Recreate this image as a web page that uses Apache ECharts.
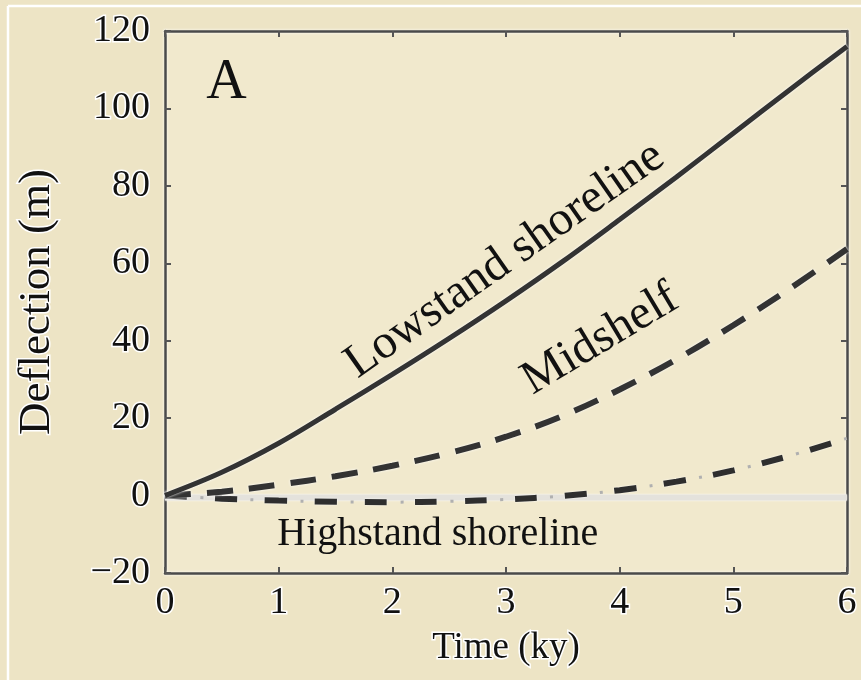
<!DOCTYPE html>
<html><head><meta charset="utf-8">
<script src="https://cdn.jsdelivr.net/npm/echarts@6/dist/echarts.min.js"></script>
<style>html,body{margin:0;padding:0;background:#ede4c5}#c{width:861px;height:680px}</style>
</head><body><div id="c"></div>
<script>
// ---- data ----
const timeKy     = [0, 0.5, 1, 1.5, 2, 2.5, 3, 3.5, 4, 4.5, 5, 5.5, 6];
const lowstand   = [0, 6, 13.5, 22.3, 31.3, 40.6, 50.3, 60.5, 71.3, 82.3, 93.6, 104.9, 116];
const midshelf   = [0, 1, 2.8, 5, 7.7, 11, 15.2, 20.6, 27.4, 35.2, 44, 53.5, 63.7];
const outerShelf = [0, -0.8, -1.3, -1.6, -1.7, -1.5, -1, -0.1, 1.4, 3.6, 6.5, 10.3, 14.8];
const highstand  = [-0.5, -0.5, -0.5, -0.5, -0.5, -0.5, -0.5, -0.5, -0.5, -0.5, -0.5, -0.5, -0.5];
const xTickLabels = ['0', '1', '2', '3', '4', '5', '6'];
const yTickLabels = ['-20', '0', '20', '40', '60', '80', '100', '120'];
const labelTexts = ['Lowstand shoreline', 'Midshelf', 'Highstand shoreline', 'A'];
const labelAnchors = [[2.99, 60.8], [3.83, 40.3], [2.4, -10.1], [0.54, 106.5]];

const pair = arr => timeKy.map((t, i) => [t, arr[i]]);
const serif = 'Liberation Serif, Times New Roman, serif';
const halo = { textBorderColor: '#fff', textBorderWidth: 3 };

function axisCommon(extra) {
  return Object.assign({
    type: 'value',
    splitLine: { show: false },
    axisLine: { show: true, onZero: false, lineStyle: { color: '#4a4a4a', width: 2.5, shadowColor: '#fff', shadowBlur: 3 } },
    axisTick: { show: true, inside: true, length: 6, lineStyle: { color: '#555', width: 2 } }
  }, extra);
}

const chart = echarts.init(document.getElementById('c'), null, { renderer: 'canvas' });
const option = {
  backgroundColor: '#ede4c5',
  animation: false,
  grid: { left: 165, right: 10, top: 31, bottom: 107, show: true, backgroundColor: '#f1e9cd', borderWidth: 0 },
  xAxis: [
    axisCommon({
      min: 0, max: 6, interval: 1, position: 'bottom',
      axisLabel: Object.assign({ fontFamily: serif, fontSize: 38, color: '#111', margin: 11,
        formatter: v => xTickLabels[Math.round(v)] }, halo),
      name: 'Time (ky)', nameLocation: 'middle', nameGap: 56,
      nameTextStyle: Object.assign({ fontFamily: serif, fontSize: 37, color: '#111' }, halo)
    }),
    axisCommon({ min: 0, max: 6, interval: 1, position: 'top', axisLabel: { show: false } })
  ],
  yAxis: [
    axisCommon({
      min: -20, max: 120, interval: 20, position: 'left',
      axisLabel: Object.assign({ fontFamily: serif, fontSize: 38, color: '#111', margin: 15,
        formatter: v => yTickLabels[Math.round((v + 20) / 20)].replace('-', '\u2212') }, halo),
      name: 'Deflection (m)', nameLocation: 'middle', nameGap: 105,
      nameTextStyle: Object.assign({ fontFamily: serif, fontSize: 45, color: '#111' }, halo)
    }),
    axisCommon({ min: -20, max: 120, interval: 20, position: 'right', axisLabel: { show: false } })
  ],
  series: [
    { name: 'Highstand shoreline', type: 'line', data: pair(highstand), symbol: 'none',
      lineStyle: { color: '#e4e2dc', width: 6, shadowColor: '#fff', shadowBlur: 2 }, z: 1 },
    { name: 'Outer shelf', type: 'line', data: pair(outerShelf), symbol: 'none', smooth: 0.35,
      lineStyle: { color: '#2e2e2e', width: 6, type: [22, 28], shadowColor: '#fff', shadowBlur: 2 }, z: 3 },
    { name: 'Outer shelf dots', type: 'line', data: pair(outerShelf), symbol: 'none', smooth: 0.35,
      lineStyle: { color: '#b0b0b0', width: 3, type: [3, 47], dashOffset: 14.5 }, z: 3 },
    { name: 'Midshelf', type: 'line', data: pair(midshelf), symbol: 'none', smooth: 0.35,
      lineStyle: { color: '#333', width: 6, type: [26, 16], shadowColor: '#fff', shadowBlur: 3 }, z: 4 },
    { name: 'Lowstand shoreline', type: 'line', data: pair(lowstand), symbol: 'none', smooth: 0.35,
      lineStyle: { color: '#333', width: 5, shadowColor: '#fff', shadowBlur: 3 }, z: 5 }
  ]
};
chart.setOption(option);

const styles = [
  { size: 48, rot: 35 },
  { size: 48, rot: 31 },
  { size: 40, rot: 0 },
  { size: 56, rot: 0 }
];
const graphics = labelTexts.map((txt, i) => {
  const p = chart.convertToPixel({ xAxisIndex: 0, yAxisIndex: 0 }, labelAnchors[i]);
  return {
    type: 'text', x: p[0], y: p[1], rotation: styles[i].rot * Math.PI / 180, z: 10,
    style: { text: txt, fill: '#111', font: styles[i].size + 'px ' + serif,
      align: 'center', verticalAlign: 'middle', textAlign: 'center', textVerticalAlign: 'middle' }
  };
});
graphics.push(
  { type: 'line', shape: { x1: 8, y1: 6, x2: 861, y2: 6 }, style: { stroke: '#fff', lineWidth: 2.5 }, z: 10 },
  { type: 'line', shape: { x1: 8, y1: 6, x2: 8, y2: 680 }, style: { stroke: '#fff', lineWidth: 2.5 }, z: 10 }
);
chart.setOption({ graphic: graphics });
</script>
</body></html>
